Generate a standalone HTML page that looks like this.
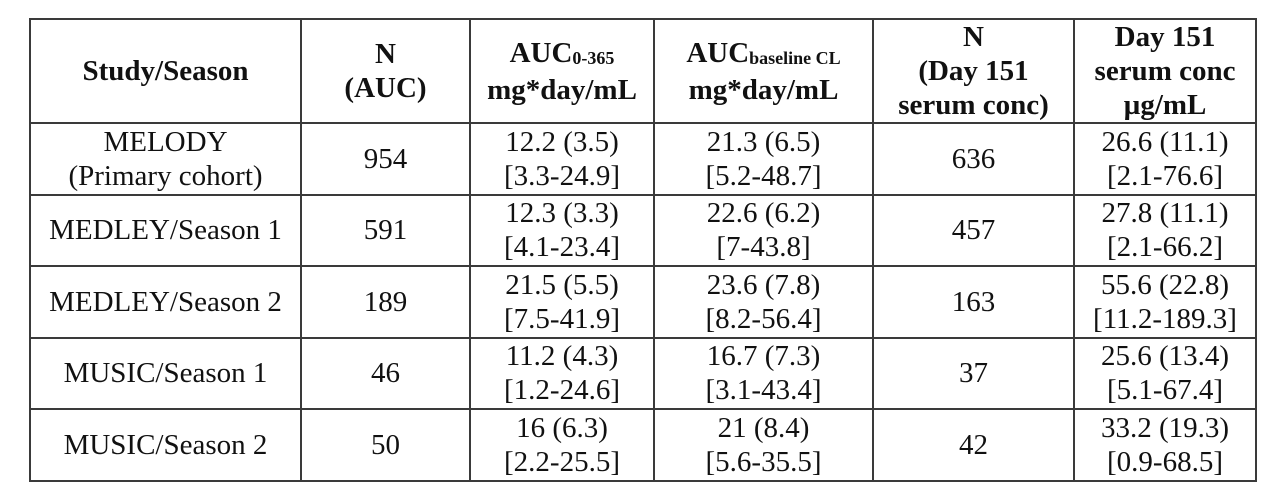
<!DOCTYPE html>
<html><head><meta charset="utf-8"><style>
html,body{margin:0;padding:0;background:#fff;width:1280px;height:488px;overflow:hidden}
table{position:absolute;left:29px;top:18px;border-collapse:collapse;table-layout:fixed;font-family:"Liberation Serif",serif;font-size:29px;color:#111}
td,th{border:2px solid #3a3a3a;text-align:center;vertical-align:middle;padding:0;line-height:34px}
th{font-weight:bold;height:101px}
td{height:69.5px}
sub{font-size:18px;vertical-align:baseline;position:relative;top:2px}
</style></head><body>
<table>
<colgroup><col style="width:271px"><col style="width:169px"><col style="width:184px"><col style="width:219px"><col style="width:201px"><col style="width:182px"></colgroup>
<tr><th>Study/Season</th><th>N<br>(AUC)</th><th>AUC<sub>0-365</sub><br>mg*day/mL</th><th>AUC<sub>baseline CL</sub><br>mg*day/mL</th><th>N<br>(Day 151<br>serum conc)</th><th>Day 151<br>serum conc<br>µg/mL</th></tr>
<tr><td>MELODY<br>(Primary cohort)</td><td>954</td><td>12.2 (3.5)<br>[3.3-24.9]</td><td>21.3 (6.5)<br>[5.2-48.7]</td><td>636</td><td>26.6 (11.1)<br>[2.1-76.6]</td></tr>
<tr><td>MEDLEY/Season 1</td><td>591</td><td>12.3 (3.3)<br>[4.1-23.4]</td><td>22.6 (6.2)<br>[7-43.8]</td><td>457</td><td>27.8 (11.1)<br>[2.1-66.2]</td></tr>
<tr><td>MEDLEY/Season 2</td><td>189</td><td>21.5 (5.5)<br>[7.5-41.9]</td><td>23.6 (7.8)<br>[8.2-56.4]</td><td>163</td><td>55.6 (22.8)<br>[11.2-189.3]</td></tr>
<tr><td>MUSIC/Season 1</td><td>46</td><td>11.2 (4.3)<br>[1.2-24.6]</td><td>16.7 (7.3)<br>[3.1-43.4]</td><td>37</td><td>25.6 (13.4)<br>[5.1-67.4]</td></tr>
<tr><td>MUSIC/Season 2</td><td>50</td><td>16 (6.3)<br>[2.2-25.5]</td><td>21 (8.4)<br>[5.6-35.5]</td><td>42</td><td>33.2 (19.3)<br>[0.9-68.5]</td></tr>
</table>
</body></html>
